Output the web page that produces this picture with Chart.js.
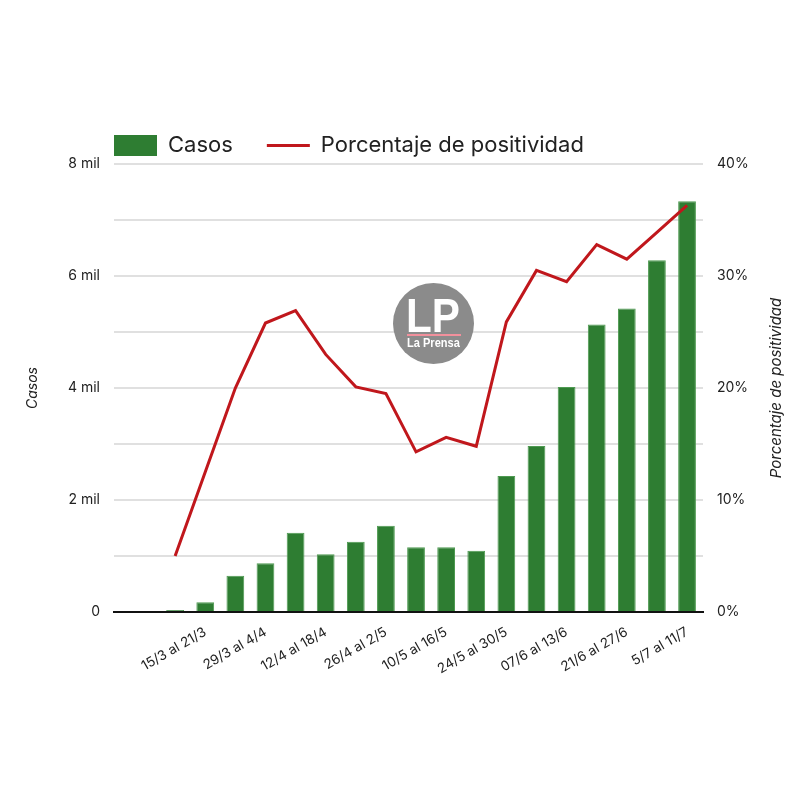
<!DOCTYPE html>
<html>
<head>
<meta charset="utf-8">
<script src="https://cdn.jsdelivr.net/npm/chart.js@4.4.1/dist/chart.umd.min.js"></script>
<style>
html,body{margin:0;padding:0;background:#fff;}
#wrap{position:relative;width:800px;height:800px;}
canvas{display:block;}
#logo{position:absolute;left:393px;top:283px;width:81px;height:81px;border-radius:50%;background:#8b8b8b;color:#fff;font-family:"Liberation Sans",Arial,sans-serif;font-weight:bold;overflow:hidden;}
#logo .lp{position:absolute;left:13px;top:9px;font-size:48px;line-height:48px;transform:scaleX(0.88);transform-origin:left top;white-space:nowrap;}
#logo .bar{position:absolute;left:14px;top:50.5px;width:54px;height:2.5px;background:#f2909c;}
#logo .name{position:absolute;left:14px;top:53px;font-size:13px;line-height:13px;transform:scaleX(0.85);transform-origin:left top;white-space:nowrap;}
</style>
</head>
<body>
<div id="wrap">
<canvas id="c" width="800" height="800"></canvas>
<div id="logo"><div class="lp">LP</div><div class="bar"></div><div class="name">La Prensa</div></div>
</div>
<script>
const weekLabels = ["8/3 al 14/3","15/3 al 21/3","22/3 al 28/3","29/3 al 4/4","5/4 al 11/4","12/4 al 18/4","19/4 al 25/4","26/4 al 2/5","3/5 al 9/5","10/5 al 16/5","17/5 al 23/5","24/5 al 30/5","31/5 al 06/6","07/6 al 13/6","14/6 al 20/6","21/6 al 27/6","28/6 al 4/7","5/7 al 11/7"];
const cases = [36, 173, 648, 870, 1416, 1030, 1256, 1541, 1155, 1155, 1095, 2429, 2964, 4018, 5132, 5418, 6280, 7334];
const positivity = [5.0, 12.5, 20.0, 25.8, 26.9, 23.0, 20.1, 19.5, 14.3, 15.6, 14.8, 25.9, 30.5, 29.5, 32.8, 31.5, 33.9, 36.3];
const seriesNames = ["Casos", "Porcentaje de positividad"];
const leftTitle = "Casos";
const rightTitle = "Porcentaje de positividad";

const GREEN = '#2e7d32';
const RED = '#c0171c';
const TEXT = '#222';
const FAMILY = "Inter, 'Open Sans', sans-serif";
Chart.defaults.font.family = FAMILY;
Chart.defaults.color = TEXT;

const shiftLegend = {
  id: 'shiftLegend',
  afterLayout(chart) {
    const l = chart.legend;
    if (!l) return;
    const shift = l.options.labels.padding;
    l.left -= shift; l.right -= shift;
    l.top += 2.5; l.bottom += 2.5;
  }
};
const rightTitlePlugin = {
  id: 'rightTitle',
  afterDraw(chart) {
    const {ctx, chartArea} = chart;
    ctx.save();
    ctx.translate(776, (chartArea.top + chartArea.bottom) / 2);
    ctx.rotate(-Math.PI / 2);
    ctx.textAlign = 'center';
    ctx.textBaseline = 'middle';
    ctx.fillStyle = TEXT;
    ctx.font = "italic 15px " + FAMILY;
    ctx.fillText(rightTitle, 0, 0);
    ctx.restore();
  }
};

new Chart(document.getElementById('c'), {
  type: 'bar',
  data: {
    datasets: [
      {
        type: 'bar', label: seriesNames[0],
        data: cases.map((v, i) => ({x: i, y: v})),
        backgroundColor: GREEN, borderColor: '#4e9a51', borderWidth: 1,
        categoryPercentage: 1, barPercentage: 0.59,
        yAxisID: 'y', order: 2
      },
      {
        type: 'line', label: seriesNames[1],
        data: positivity.map((v, i) => ({x: i, y: v})),
        borderColor: RED, borderWidth: 3, pointRadius: 0, tension: 0, fill: false,
        yAxisID: 'y1', order: 1
      }
    ]
  },
  options: {
    responsive: false,
    animation: false,
    layout: {padding: {top: 98, bottom: 118, left: 0, right: 0}},
    plugins: {
      tooltip: {enabled: false},
      legend: {
        position: 'top', align: 'start', fullSize: false,
        labels: {
          usePointStyle: true, pointStyleWidth: 43, boxHeight: 21, padding: 34,
          font: {size: 22}, color: TEXT,
          generateLabels: (chart) => chart.data.datasets.map((ds, i) => ({
            text: ds.label,
            fillStyle: i === 0 ? GREEN : 'rgba(0,0,0,0)',
            strokeStyle: i === 0 ? GREEN : RED,
            lineWidth: i === 0 ? 0 : 3,
            pointStyle: i === 0 ? 'rect' : 'line',
            fontColor: TEXT,
            hidden: false,
            datasetIndex: i
          }))
        }
      }
    },
    scales: {
      x: {
        type: 'linear', min: -2.03, max: 17.53, offset: false,
        grid: {display: false},
        border: {display: true, color: '#111', width: 2},
        afterBuildTicks: (s) => { s.ticks = weekLabels.map((l, i) => ({value: i})).filter(t => t.value % 2 === 1); },
        afterFit: (s) => { s.height = 70; },
        ticks: {autoSkip: false, minRotation: 30, maxRotation: 30, padding: 4, font: {size: 13.5}, color: TEXT,
          callback: (v) => weekLabels[v] }
      },
      y: {
        position: 'left', min: 0, max: 8000,
        afterFit: (s) => { s.width = 114; },
        ticks: {stepSize: 1000, font: {size: 14}, padding: 14, color: TEXT,
          callback: (v) => v % 2000 === 0 ? (v === 0 ? '0' : (v / 1000) + ' mil') : ''},
        grid: {color: '#e0e0e0', lineWidth: 2, drawTicks: false},
        border: {display: false},
        title: {display: true, text: leftTitle, font: {size: 14, style: 'italic'}, padding: {top: 24, bottom: 0}, color: TEXT}
      },
      y1: {
        position: 'right', min: 0, max: 40,
        afterFit: (s) => { s.width = 97; },
        ticks: {stepSize: 5, font: {size: 14}, padding: 14, color: TEXT,
          callback: (v) => v % 10 === 0 ? v + '%' : ''},
        grid: {display: false, drawTicks: false},
        border: {display: false}
      }
    }
  },
  plugins: [shiftLegend, rightTitlePlugin]
});
</script>
</body>
</html>
